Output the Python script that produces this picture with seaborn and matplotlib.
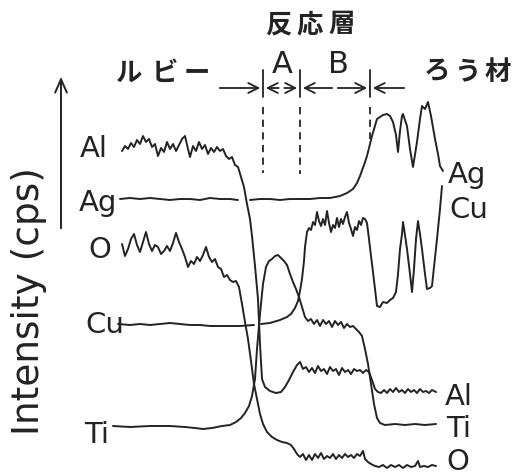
import matplotlib
matplotlib.use("Agg")
import matplotlib.pyplot as plt
import pandas as pd
import seaborn as sns

# EPMA line scan across ruby / reaction layer / brazing filler
# each trace: (position along scan, signal level; level grows downward)
al_trace = [
    (122, 152), (125, 147), (128, 150), (131, 144), (134, 148), (137, 141), (140, 145),
    (143, 137), (146, 143), (149, 140), (152, 148), (155, 145), (158, 157), (161, 149),
    (164, 153), (167, 143), (170, 150), (173, 145), (176, 152), (179, 146), (182, 140),
    (185, 137), (188, 150), (190, 158), (193, 147), (196, 152), (199, 143), (202, 150),
    (205, 146), (208, 155), (211, 149), (214, 153), (217, 148), (220, 152), (223, 150),
    (226, 157), (229, 160), (232, 158), (235, 166), (238, 168), (241, 178), (244, 188),
    (247, 205), (250, 220), (252, 237), (255, 267), (258, 300), (260, 345), (262, 380),
    (265, 388), (270, 392), (276, 394), (281, 393), (285, 388), (289, 381), (293, 373),
    (297, 366), (300, 363), (303, 370), (306, 368), (309, 373), (312, 369), (315, 374),
    (318, 367), (321, 372), (324, 370), (327, 375), (330, 368), (333, 372), (336, 370),
    (339, 376), (342, 369), (345, 373), (348, 371), (351, 375), (354, 370), (357, 372),
    (360, 371), (363, 374), (366, 371), (369, 373), (372, 381), (375, 390), (378, 393),
    (381, 394), (384, 391), (387, 394), (390, 390), (393, 393), (396, 389), (399, 393),
    (402, 391), (405, 394), (408, 390), (411, 393), (414, 391), (417, 394), (420, 390),
    (423, 393), (426, 392), (429, 394), (432, 391), (436, 393),
]

ag_left = [
    (120, 200), (130, 199), (140, 200), (150, 199), (160, 200), (170, 201), (180, 200),
    (190, 200), (200, 201), (210, 199), (220, 200), (230, 200), (238, 201),
]
ag_right = [
    (250, 201), (260, 200), (270, 200), (280, 201), (290, 200), (300, 200), (310, 200),
    (320, 199), (330, 199), (340, 197), (347, 194), (353, 190), (357, 184), (360, 177),
    (364, 166), (367, 157), (372, 137), (377, 120), (380, 118), (383, 116), (387, 115),
    (390, 117), (393, 123), (396, 136), (398, 153), (400, 132), (402, 117), (403, 115),
    (407, 127), (410, 150), (413, 168), (417, 143), (420, 120), (422, 107), (425, 110),
    (428, 103), (431, 117), (435, 140), (438, 155), (440, 167), (443, 172),
]

o_trace = [
    (122, 245), (125, 257), (128, 250), (131, 240), (134, 235), (137, 246), (140, 253),
    (143, 243), (146, 233), (149, 245), (152, 252), (155, 246), (158, 248), (161, 255),
    (164, 252), (167, 247), (170, 252), (173, 244), (176, 234), (179, 243), (182, 250),
    (185, 258), (188, 268), (191, 262), (194, 265), (197, 258), (200, 262), (203, 256),
    (206, 248), (209, 258), (212, 263), (215, 260), (218, 268), (221, 270), (224, 278),
    (227, 276), (230, 281), (233, 283), (236, 282), (239, 288), (242, 305), (245, 323),
    (248, 340), (251, 362), (254, 385), (257, 400), (260, 415), (263, 425), (267, 433),
    (272, 438), (277, 441), (282, 443), (287, 444), (291, 446), (294, 450), (297, 455),
    (300, 458), (303, 455), (306, 461), (309, 456), (312, 461), (315, 455), (318, 459),
    (321, 454), (324, 460), (327, 457), (330, 459), (333, 455), (336, 460), (339, 456),
    (342, 459), (345, 455), (348, 458), (351, 456), (354, 459), (357, 455), (360, 457),
    (363, 452), (365, 460), (368, 463), (371, 465), (375, 467), (379, 468), (383, 466),
    (387, 469), (391, 466), (395, 468), (399, 466), (403, 469), (407, 466), (411, 468),
    (415, 467), (418, 462), (420, 468), (424, 467), (428, 468), (432, 466), (436, 467),
]

cu_left = [
    (118, 325), (130, 326), (140, 325), (150, 326), (160, 325), (170, 324), (180, 325),
    (190, 326), (200, 326), (210, 327), (220, 327), (230, 327), (240, 327), (254, 326),
]
cu_right = [
    (261, 325), (270, 324), (280, 321), (287, 318), (291, 315), (295, 309), (298, 302),
    (300, 292), (302, 280), (304, 262), (305, 248), (307, 233), (309, 229), (311, 231),
    (313, 223), (315, 226), (317, 213), (319, 222), (321, 227), (323, 220), (325, 226),
    (327, 212), (329, 224), (331, 233), (333, 226), (335, 229), (337, 219), (339, 228),
    (341, 220), (343, 225), (345, 218), (347, 213), (349, 224), (351, 230), (353, 237),
    (355, 228), (357, 231), (359, 222), (361, 226), (363, 219), (365, 220), (367, 224),
    (369, 240), (371, 257), (373, 273), (375, 290), (377, 307), (380, 308), (383, 303),
    (387, 304), (390, 301), (393, 299), (396, 293), (398, 275), (400, 250), (402, 235),
    (403, 223), (405, 236), (407, 250), (410, 275), (412, 293), (414, 270), (416, 240),
    (418, 222), (420, 235), (422, 250), (425, 275), (427, 290), (430, 289), (432, 287),
    (434, 268), (437, 240), (440, 210), (442, 187),
]

ti_trace = [
    (113, 427), (130, 428), (150, 427), (170, 427), (185, 428), (195, 429), (203, 430),
    (212, 429), (222, 427), (230, 426), (236, 423), (241, 419), (245, 414), (249, 407),
    (252, 397), (255, 380), (257, 350), (260, 315), (263, 285), (266, 268), (269, 262),
    (272, 260), (275, 257), (278, 256), (281, 259), (284, 262), (287, 266), (290, 275),
    (293, 283), (296, 290), (299, 298), (302, 308), (305, 318), (308, 322), (311, 320),
    (314, 325), (317, 321), (320, 327), (323, 321), (326, 325), (329, 322), (332, 328),
    (335, 322), (338, 326), (341, 323), (344, 329), (347, 325), (350, 328), (353, 327),
    (356, 330), (359, 333), (362, 337), (365, 350), (368, 365), (371, 385), (374, 405),
    (377, 419), (380, 424), (385, 426), (395, 425), (405, 426), (415, 425), (425, 426),
    (436, 425),
]

segments = {
    "Al": [al_trace], "Ag": [ag_left, ag_right], "O": [o_trace],
    "Cu": [cu_left, cu_right], "Ti": [ti_trace],
}

# labels at the start and end of each trace
left_names = ["Al", "Ag", "O", "Cu", "Ti"]
left_pos = [(80, 157), (79, 211), (88, 258), (85, 333), (84, 443)]
right_names = ["Ag", "Cu", "Al", "Ti", "O"]
right_pos = [(448, 183), (449, 218), (445, 405), (446, 437), (446, 470)]

# layer boundaries along the scan (ruby | A | B | filler)
bounds = [263, 300, 370]
dash_end = [174, 175, 140]

rows = []
for name, segs in segments.items():
    for k, seg in enumerate(segs):
        for px, lv in seg:
            rows.append({"el": name, "seg": f"{name}{k}", "pos": px, "level": lv})
df = pd.DataFrame(rows)

sns.set_theme(style="white")
plt.rcParams["font.family"] = ["DejaVu Sans", "Noto Sans CJK JP"]

ink = "#232323"
fig = plt.figure(figsize=(5.22, 4.77), dpi=100)
ax = fig.add_axes([0, 0, 1, 1])
sns.lineplot(data=df, x="pos", y="level", units="seg", estimator=None, sort=False,
             color=ink, lw=1.4, ax=ax, legend=False)
ax.set_xlim(0, 522)
ax.set_ylim(477, 0)
ax.axis("off")

for name, (tx, ty) in zip(left_names, left_pos):
    ax.text(tx, ty, name, fontsize=21, color=ink, va="baseline", ha="left")
for name, (tx, ty) in zip(right_names, right_pos):
    ax.text(tx, ty, name, fontsize=21, color=ink, va="baseline", ha="left")

# intensity axis arrow
ax.annotate("", xy=(61, 75), xytext=(61, 232),
            arrowprops=dict(arrowstyle="->,head_length=0.8,head_width=0.35", color=ink, lw=1.4))
ax.text(29, 301, "Intensity (cps)", rotation=90, fontsize=27, color=ink,
        ha="center", va="center")

# boundary ticks, dashed guides and region arrows
for b, de in zip(bounds, dash_end):
    ax.plot([b, b], [71, 98], color=ink, lw=1.3)
    ax.plot([b, b], [108, de], color=ink, lw=1.3, ls=(0, (4, 3)))
arr = dict(arrowstyle="->,head_length=0.6,head_width=0.3", color=ink, lw=1.3)
y_arr = 89
ax.annotate("", xy=(bounds[0], y_arr), xytext=(217, y_arr), arrowprops=arr)
for a, b in zip(bounds[:-1], bounds[1:]):
    ax.annotate("", xy=(a, y_arr), xytext=((a + b) / 2, y_arr), arrowprops=arr)
    ax.annotate("", xy=(b, y_arr), xytext=((a + b) / 2, y_arr), arrowprops=arr)
ax.annotate("", xy=(bounds[-1], y_arr), xytext=(407, y_arr), arrowprops=arr)

ax.text(282, 73, "A", fontsize=22, color=ink, ha="center", va="baseline")
ax.text(338, 73, "B", fontsize=22, color=ink, ha="center", va="baseline")

jp = ["Noto Sans CJK JP"]
for ch, cx in zip("反応層", [278, 310, 342]):
    ax.text(cx, 25, ch, fontsize=19, fontweight="bold", color=ink, family=jp,
            ha="center", va="center")
for ch, cx in zip("ルビー", [129, 165, 197]):
    ax.text(cx, 73, ch, fontsize=19, fontweight="bold", color=ink, family=jp,
            ha="center", va="center")
for ch, cx in zip("ろう材", [437, 467, 498]):
    ax.text(cx, 72, ch, fontsize=19, fontweight="bold", color=ink, family=jp,
            ha="center", va="center")

fig.savefig("out.png", dpi=100, facecolor="white")
